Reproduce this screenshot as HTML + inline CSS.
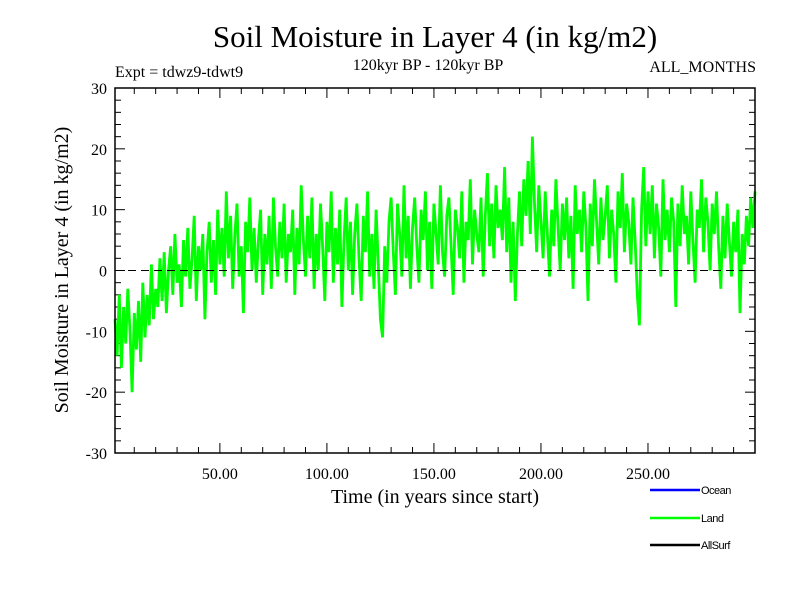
<!DOCTYPE html>
<html><head><meta charset="utf-8"><style>
body{margin:0;background:#fff}
svg{display:block}
text{font-family:"Liberation Serif",serif;fill:#000}
text.sans{font-family:"Liberation Sans",sans-serif}
</style></head><body>
<svg id="chart" width="800" height="600">
<text x="435" y="47" font-size="31" text-anchor="middle">Soil Moisture in Layer 4 (in kg/m2)</text>
<text x="428" y="70" font-size="16" text-anchor="middle">120kyr BP - 120kyr BP</text>
<text x="115" y="77" font-size="16">Expt = tdwz9-tdwt9</text>
<text x="756" y="72" font-size="16" text-anchor="end">ALL_MONTHS</text>
<text x="435" y="503" font-size="20" text-anchor="middle">Time (in years since start)</text>
<text transform="translate(68,270) rotate(-90)" font-size="20" text-anchor="middle">Soil Moisture in Layer 4 (in kg/m2)</text>
<g id="axes"></g>
<g id="series"></g>
<rect x="115" y="88" width="640" height="365" fill="none" stroke="#000" stroke-width="1.5"/>
<g>
<line x1="650" y1="490" x2="700" y2="490" stroke="#0000ff" stroke-width="2.5"/>
<text class="sans" x="701" y="494" font-size="11" style="letter-spacing:-0.5px">Ocean</text>
<line x1="650" y1="518" x2="700" y2="518" stroke="#00ff00" stroke-width="2.5"/>
<text class="sans" x="701" y="522" font-size="11" style="letter-spacing:-0.5px">Land</text>
<line x1="650" y1="545" x2="700" y2="545" stroke="#000" stroke-width="2.5"/>
<text class="sans" x="701" y="549" font-size="11" style="letter-spacing:-0.5px">AllSurf</text>
</g>
</svg>
<script>
const xTickValues=[50,100,150,200,250];
const xTickLabels=["50.00","100.00","150.00","200.00","250.00"];
const yTickValues=[-30,-20,-10,0,10,20,30];
const yTickLabels=["-30","-20","-10","0","10","20","30"];
const landValues=[
-8,-14,-4,-16,-6,-12,-3,-10,-20,-7,
-13,-5,-15,-2,-11,-4,-9,1,-8,-3,
-6,2,-5,3,-7,0,4,-4,6,-2,
1,-6,5,-1,7,-3,2,9,-5,4,
0,6,-8,3,8,-2,5,-4,10,1,
7,-1,13,2,9,-3,6,11,-1,4,
-7,8,3,12,0,7,-2,5,10,-4,
6,1,9,-3,12,4,-1,8,2,11,
-2,6,3,10,-4,7,1,14,5,-1,
9,2,12,-3,6,0,11,4,-5,8,
3,13,-2,7,1,10,-6,5,12,0,
8,-4,6,11,2,-5,9,3,13,-1,
6,-3,10,1,-8,-11,4,-2,8,12,
3,-4,11,6,-1,14,2,9,-3,7,
12,4,-2,10,5,13,0,8,-3,11,
6,1,14,3,-1,9,12,4,-4,10,
7,2,13,-2,8,5,15,1,10,6,
3,12,-1,9,16,4,11,2,14,7,
10,5,17,3,12,-2,8,-5,6,13,
4,15,9,18,6,22,11,3,14,8,
2,13,6,-1,10,4,15,7,0,11,
5,12,2,9,-3,14,6,10,3,13,
7,-5,11,4,15,8,1,12,5,9,
14,2,10,6,-2,13,7,16,3,11,
8,1,12,5,-4,-9,10,17,4,13,
6,14,2,11,7,-1,15,5,10,3,
12,8,-6,11,4,14,6,9,1,13,
5,-2,10,7,15,3,12,8,0,11,
6,13,4,-3,9,2,11,5,-1,8,
3,10,-7,6,1,9,4,12,7,13];
const NS="http://www.w3.org/2000/svg";
const X0=115,X1=755,Y0=88,Y1=453,XMIN=1,XMAX=300,YMIN=-30,YMAX=30;
function xs(v){return X0+(v-XMIN)/(XMAX-XMIN)*(X1-X0);}
function ys(v){return Y1-(v-YMIN)/(YMAX-YMIN)*(Y1-Y0);}
function mk(t,a,p){const e=document.createElementNS(NS,t);for(const k in a)e.setAttribute(k,a[k]);p.appendChild(e);return e;}
const axes=document.getElementById('axes');
for(let v=10;v<=290;v+=10){
 const major=xTickValues.includes(v);const L=major?10:6;const x=xs(v);
 const t1=mk('line',{x1:x,x2:x,y1:Y1,y2:Y1-L,stroke:'#000'},axes);
 
 
 const t2=mk('line',{x1:x,x2:x,y1:Y0,y2:Y0+L,stroke:'#000'},axes);
 
 
}
xTickValues.forEach((v,i)=>{
 const t=mk('text',{x:xs(v),y:479,'font-size':16,'text-anchor':'middle'},axes);
 t.textContent=xTickLabels[i];
 
 
});
for(let v=-28;v<=28;v+=2){
 const major=v%10===0;const L=major?10:6;const y=ys(v);
 const t1=mk('line',{x1:X0,x2:X0+L,y1:y,y2:y,stroke:'#000'},axes);
 
 
 const t2=mk('line',{x1:X1,x2:X1-L,y1:y,y2:y,stroke:'#000'},axes);
 
 
}
yTickValues.forEach((v,i)=>{
 const t=mk('text',{x:107,y:ys(v)+6,'font-size':16,'text-anchor':'end'},axes);
 t.textContent=yTickLabels[i];
 
 
});
const ser=document.getElementById('series');
const pts=landValues.map((v,i)=>xs(XMIN+i*(XMAX-XMIN)/(landValues.length-1)).toFixed(1)+','+ys(v).toFixed(1)).join(' ');
const pl=mk('polyline',{points:pts,fill:'none',stroke:'#00ff00','stroke-width':2.8,'stroke-linejoin':'miter'},ser);


const zl=mk('line',{x1:X0,x2:X1,y1:ys(0),y2:ys(0),stroke:'#000','stroke-dasharray':'8,5'},ser);


</script>
</body></html>
